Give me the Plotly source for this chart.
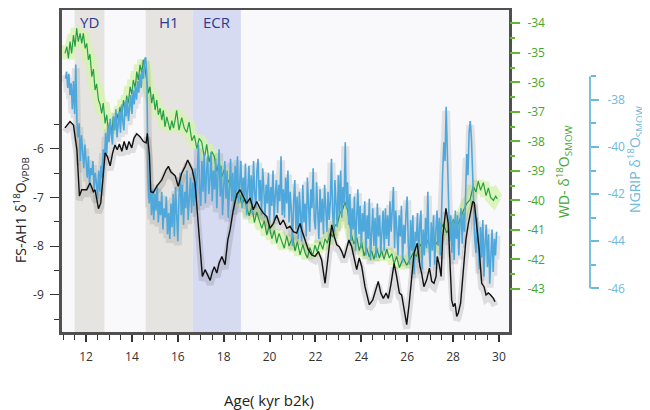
import plotly.graph_objects as go

# ---------------- data ----------------
# FS-AH1 speleothem d18O (VPDB), left axis
fs_age = [11.08, 11.30, 11.45, 11.60, 11.71, 11.81, 12.03, 12.17, 12.32, 12.39, 12.54, 12.64, 12.73, 12.83,
          12.93, 13.05, 13.16, 13.26, 13.36, 13.45, 13.56, 13.66, 13.77, 13.87, 13.99, 14.09, 14.21, 14.35,
          14.50, 14.62, 14.67, 14.76, 14.82, 14.93, 15.08, 15.30, 15.49, 15.59, 15.69, 15.88, 16.02, 16.17,
          16.32, 16.43, 16.53, 16.63, 16.75, 16.87, 16.97, 17.07, 17.19, 17.29, 17.41, 17.51, 17.59, 17.70,
          17.80, 17.92, 18.06, 18.18, 18.28, 18.42, 18.57, 18.71, 18.86, 19.00, 19.15, 19.29, 19.44, 19.58,
          19.73, 19.88, 20.02, 20.17, 20.31, 20.46, 20.60, 20.75, 20.89, 21.04, 21.18, 21.33, 21.40, 21.55,
          21.69, 21.84, 21.98, 22.13, 22.27, 22.42, 22.52, 22.61, 22.71, 22.82, 22.93, 23.04, 23.15, 23.25,
          23.36, 23.46, 23.58, 23.70, 23.80, 23.91, 24.02, 24.16, 24.35, 24.50, 24.64, 24.74, 24.85, 24.96,
          25.08, 25.18, 25.30, 25.43, 25.54, 25.66, 25.76, 25.86, 25.98, 26.09, 26.20, 26.30, 26.44, 26.56,
          26.63, 26.73, 26.85, 26.97, 27.07, 27.17, 27.26, 27.31, 27.40, 27.48, 27.55, 27.62, 27.69, 27.79,
          27.87, 27.94, 28.01, 28.09, 28.16, 28.23, 28.33, 28.45, 28.56, 28.67, 28.77, 28.86, 28.93, 29.03,
          29.14, 29.25, 29.35, 29.44, 29.54, 29.64, 29.76, 29.83]
fs_d18o = [-5.57, -5.44, -5.51, -6.02, -6.97, -6.84, -6.84, -6.70, -6.88, -6.84, -7.23, -7.11, -6.64, -6.08,
           -6.16, -6.35, -6.08, -5.92, -6.02, -5.90, -6.05, -5.85, -6.02, -5.85, -5.98, -5.78, -5.69, -5.75,
           -5.85, -5.88, -5.68, -6.12, -6.88, -6.90, -6.77, -6.64, -6.43, -6.36, -6.47, -6.55, -6.77, -6.50,
           -6.36, -6.23, -6.33, -6.43, -6.70, -7.39, -8.07, -8.62, -8.48, -8.59, -8.70, -8.52, -8.42, -8.55,
           -8.35, -8.21, -8.38, -7.87, -7.66, -7.25, -6.94, -6.84, -6.98, -7.12, -7.01, -7.25, -7.08, -7.22,
           -7.32, -7.39, -7.63, -7.53, -7.36, -7.56, -7.46, -7.63, -7.59, -7.70, -7.73, -7.53, -7.66, -7.90,
           -8.07, -8.18, -8.21, -8.11, -8.28, -8.76, -8.35, -7.94, -7.56, -7.80, -7.97, -8.01, -8.11, -8.24,
           -8.04, -7.87, -8.01, -8.24, -8.48, -8.24, -8.42, -8.83, -9.20, -9.10, -8.86, -8.72, -8.96, -9.07,
           -8.96, -9.07, -8.76, -8.35, -8.62, -8.96, -9.00, -9.31, -9.61, -9.17, -8.62, -8.14, -7.94, -8.42,
           -8.55, -8.83, -8.69, -8.45, -8.72, -8.76, -8.62, -8.21, -8.38, -8.62, -7.80, -7.53, -7.22, -7.53,
           -8.35, -9.10, -9.24, -9.17, -9.44, -9.37, -9.17, -8.48, -7.87, -7.53, -7.25, -7.08, -7.11, -7.53,
           -8.07, -8.76, -8.83, -9.00, -8.96, -9.00, -9.07, -9.14]

# WAIS Divide d18O (SMOW), first right axis
wd_age = [11.08, 11.16, 11.23, 11.30, 11.37, 11.45, 11.52, 11.59, 11.66, 11.74, 11.81, 11.88, 11.96, 12.03,
          12.10, 12.17, 12.25, 12.32, 12.39, 12.46, 12.54, 12.61, 12.68, 12.75, 12.83, 12.90, 12.97, 13.05,
          13.12, 13.19, 13.26, 13.34, 13.41, 13.48, 13.56, 13.63, 13.70, 13.77, 13.84, 13.92, 13.99, 14.06,
          14.14, 14.21, 14.28, 14.35, 14.43, 14.50, 14.57, 14.64, 14.72, 14.79, 14.86, 14.93, 15.01, 15.08,
          15.15, 15.23, 15.30, 15.37, 15.44, 15.52, 15.59, 15.66, 15.74, 15.81, 15.88, 15.95, 16.05, 16.17,
          16.28, 16.39, 16.49, 16.61, 16.72, 16.83, 16.93, 17.04, 17.16, 17.26, 17.36, 17.48, 17.59, 17.70,
          17.80, 17.92, 18.03, 18.13, 18.24, 18.36, 18.46, 18.57, 18.67, 18.79, 18.90, 19.01, 19.11, 19.23,
          19.34, 19.44, 19.54, 19.66, 19.77, 19.88, 19.98, 20.10, 20.21, 20.31, 20.41, 20.53, 20.64, 20.75,
          20.85, 21.01, 21.11, 21.21, 21.33, 21.45, 21.55, 21.65, 21.76, 21.88, 21.98, 22.08, 22.20, 22.32,
          22.42, 22.52, 22.64, 22.75, 22.85, 22.96, 23.07, 23.17, 23.29, 23.39, 23.48, 23.58, 23.68, 23.80,
          23.91, 24.02, 24.12, 24.23, 24.35, 24.45, 24.55, 24.67, 24.79, 24.89, 24.99, 25.11, 25.22, 25.33,
          25.43, 25.54, 25.66, 25.83, 25.98, 26.12, 26.27, 26.41, 26.56, 26.70, 26.85, 27.00, 27.14, 27.29,
          27.43, 27.58, 27.72, 27.87, 28.01, 28.16, 28.30, 28.45, 28.60, 28.74, 28.88, 29.00, 29.10, 29.20,
          29.32, 29.44, 29.54, 29.64, 29.76, 29.86, 29.93]
wd_d18o = [-35.02, -34.79, -35.19, -34.62, -35.02, -34.40, -34.79, -34.17, -34.62, -34.34, -34.68, -34.34, -34.85, -34.68,
           -35.24, -35.05, -35.81, -35.55, -36.26, -36.05, -36.60, -36.75, -37.05, -36.70, -37.39, -37.10, -37.62, -37.35,
           -37.73, -37.17, -37.51, -37.05, -37.30, -36.83, -37.20, -36.60, -36.94, -36.45, -36.71, -36.15, -36.40, -35.92,
           -36.20, -35.64, -35.92, -35.41, -35.69, -35.24, -35.53, -36.03, -36.37, -36.15, -36.71, -36.40, -36.94, -36.60,
           -37.10, -36.88, -37.28, -36.95, -37.51, -37.17, -37.40, -37.62, -37.30, -37.55, -37.28, -36.95, -37.62, -37.20,
           -37.55, -37.70, -37.35, -37.98, -37.80, -38.25, -37.90, -38.02, -38.55, -38.10, -38.70, -38.35, -38.50, -39.02,
           -38.70, -39.20, -38.95, -39.48, -39.30, -39.62, -39.45, -39.92, -39.70, -40.15, -39.95, -40.30, -40.52, -40.20,
           -40.75, -40.40, -40.62, -40.95, -40.70, -41.18, -40.85, -41.30, -41.02, -41.45, -41.12, -41.40, -41.62, -41.20,
           -41.55, -41.23, -41.72, -41.40, -41.85, -41.50, -41.78, -41.95, -41.60, -41.88, -41.52, -41.74, -41.40, -41.66,
           -41.30, -41.45, -41.10, -41.25, -40.85, -40.80, -40.42, -40.35, -40.05, -40.30, -40.75, -41.20, -41.48, -41.25,
           -41.70, -41.42, -41.88, -41.60, -41.92, -41.70, -42.00, -41.62, -41.95, -41.70, -42.00, -41.65, -41.95, -41.80,
           -42.15, -41.90, -42.28, -41.95, -42.20, -42.00, -41.78, -41.90, -41.48, -41.70, -41.33, -41.58, -41.36, -41.48,
           -41.02, -40.80, -41.10, -40.90, -40.65, -40.92, -40.62, -40.35, -40.10, -39.98, -39.52, -39.72, -39.35, -39.66,
           -39.40, -39.84, -39.58, -39.90, -40.00, -39.86, -39.95]

# NGRIP d18O (SMOW), second right axis
ng_age = [11.10, 11.15, 11.20, 11.25, 11.30, 11.35, 11.40, 11.45, 11.50, 11.55, 11.60, 11.65, 11.70, 11.75, 11.80, 11.85, 11.90, 11.95,
          12.00, 12.05, 12.10, 12.15, 12.20, 12.25, 12.30, 12.35, 12.40, 12.45, 12.50, 12.55, 12.60, 12.65, 12.70, 12.75, 12.80, 12.85, 12.90, 12.95,
          13.00, 13.05, 13.10, 13.15, 13.20, 13.25, 13.30, 13.35, 13.40, 13.45, 13.50, 13.55, 13.60, 13.65, 13.70, 13.75, 13.80, 13.85, 13.90, 13.95,
          14.00, 14.05, 14.10, 14.15, 14.20, 14.25, 14.30, 14.35, 14.40, 14.45, 14.50, 14.55, 14.60, 14.65, 14.70, 14.75, 14.80, 14.85, 14.90, 14.95,
          15.00, 15.05, 15.10, 15.15, 15.20, 15.25, 15.30, 15.35, 15.40, 15.45, 15.50, 15.55, 15.60, 15.65, 15.70, 15.75, 15.80, 15.85, 15.90, 15.95,
          16.00, 16.05, 16.10, 16.15, 16.20, 16.25, 16.30, 16.35, 16.40, 16.45, 16.50, 16.55, 16.60, 16.65, 16.70, 16.75, 16.80, 16.85, 16.90, 16.95,
          17.00, 17.05, 17.10, 17.15, 17.20, 17.25, 17.30, 17.35, 17.40, 17.45, 17.50, 17.55, 17.60, 17.65, 17.70, 17.75, 17.80, 17.85, 17.90, 17.95,
          18.00, 18.05, 18.10, 18.15, 18.20, 18.25, 18.30, 18.35, 18.40, 18.45, 18.50, 18.55, 18.60, 18.65, 18.70, 18.75, 18.80, 18.85, 18.90, 18.95,
          19.00, 19.05, 19.10, 19.15, 19.20, 19.25, 19.30, 19.35, 19.40, 19.45, 19.50, 19.55, 19.60, 19.65, 19.70, 19.75, 19.80, 19.85, 19.90, 19.95,
          20.00, 20.05, 20.10, 20.15, 20.20, 20.25, 20.30, 20.35, 20.40, 20.45, 20.50, 20.55, 20.60, 20.65, 20.70, 20.75, 20.80, 20.85, 20.90, 20.95,
          21.00, 21.05, 21.10, 21.15, 21.20, 21.25, 21.30, 21.35, 21.40, 21.45, 21.50, 21.55, 21.60, 21.65, 21.70, 21.75, 21.80, 21.85, 21.90, 21.95,
          22.00, 22.05, 22.10, 22.15, 22.20, 22.25, 22.30, 22.35, 22.40, 22.45, 22.50, 22.55, 22.60, 22.65, 22.70, 22.75, 22.80, 22.85, 22.90, 22.95,
          23.00, 23.05, 23.10, 23.15, 23.20, 23.25, 23.30, 23.35, 23.40, 23.45, 23.50, 23.55, 23.60, 23.65, 23.70, 23.75, 23.80, 23.85, 23.90, 23.95,
          24.00, 24.05, 24.10, 24.15, 24.20, 24.25, 24.30, 24.35, 24.40, 24.45, 24.50, 24.55, 24.60, 24.65, 24.70, 24.75, 24.80, 24.85, 24.90, 24.95,
          25.00, 25.05, 25.10, 25.15, 25.20, 25.25, 25.30, 25.35, 25.40, 25.45, 25.50, 25.55, 25.60, 25.65, 25.70, 25.75, 25.80, 25.85, 25.90, 25.95,
          26.00, 26.05, 26.10, 26.15, 26.20, 26.25, 26.30, 26.35, 26.40, 26.45, 26.50, 26.55, 26.60, 26.65, 26.70, 26.75, 26.80, 26.85, 26.90, 26.95,
          27.00, 27.05, 27.10, 27.15, 27.20, 27.25, 27.30, 27.35, 27.40, 27.45, 27.50, 27.55, 27.60, 27.65, 27.70, 27.75, 27.80, 27.85, 27.90, 27.95,
          28.00, 28.05, 28.10, 28.15, 28.20, 28.25, 28.30, 28.35, 28.40, 28.45, 28.50, 28.55, 28.60, 28.65, 28.70, 28.75, 28.80, 28.85, 28.90, 28.95,
          29.00, 29.05, 29.10, 29.15, 29.20, 29.25, 29.30, 29.35, 29.40, 29.45, 29.50, 29.55, 29.60, 29.65, 29.70, 29.75, 29.80, 29.85, 29.90]
ng_d18o = [-37.1, -36.8, -37.5, -36.9, -37.8, -37.3, -38.4, -37.2, -38.6, -36.5, -38.9, -39.6, -39.0, -40.6, -39.5, -40.3, -40.9, -39.9,
           -40.7, -41.3, -40.4, -41.6, -40.9, -41.2, -40.6, -41.8, -41.1, -41.5, -42.2, -41.0, -41.9, -40.8, -41.3, -40.1, -40.6, -39.4, -40.3, -39.1,
           -39.8, -38.8, -39.5, -39.9, -38.7, -39.3, -38.4, -39.6, -39.0, -38.5, -39.4, -38.2, -38.9, -39.3, -38.1, -38.7, -37.9, -38.9, -38.3, -37.8,
           -38.6, -37.6, -38.2, -37.4, -38.0, -37.2, -37.7, -36.9, -37.5, -36.7, -37.1, -36.3, -36.2, -37.0, -41.3, -42.4, -41.4, -42.9, -41.8, -43.1,
           -42.0, -42.7, -41.6, -43.2, -42.3, -42.9, -41.9, -43.5, -42.6, -43.0, -42.1, -43.7, -42.8, -43.9, -42.4, -43.4, -42.0, -43.8, -41.7, -43.0,
           -44.0, -42.2, -41.1, -42.9, -41.6, -43.3, -41.9, -42.6, -41.0, -43.1, -42.0, -41.3, -42.8, -41.5, -42.5, -40.9, -42.2, -41.3, -39.9, -41.8,
           -42.5, -40.6, -41.9, -40.3, -42.4, -41.1, -40.4, -42.0, -41.4, -40.2, -42.3, -41.0, -41.8, -40.5, -42.6, -41.2, -40.1, -42.1, -40.8, -42.9,
           -41.4, -40.6, -42.2, -41.0, -43.0, -41.6, -40.5, -42.3, -41.1, -42.7, -40.8, -41.9, -40.4, -42.4, -41.2, -40.6, -42.6, -41.3, -42.1, -40.7,
           -42.9, -41.5, -40.8, -42.4, -41.2, -42.8, -40.6, -41.9, -42.6, -41.0, -40.5, -42.3, -41.4, -42.9, -40.9, -41.8, -43.0, -41.6, -42.4, -41.1,
           -43.2, -41.7, -42.5, -41.0, -43.1, -42.0, -41.4, -42.8, -41.6, -42.3, -40.4, -42.9, -41.8, -43.0, -41.3, -42.4, -41.0, -43.2, -41.9, -42.7,
           -44.2, -42.3, -41.4, -43.5, -42.1, -43.9, -41.9, -42.8, -44.0, -41.6, -43.2, -42.4, -43.8, -41.3, -42.9, -43.6, -41.8, -42.6, -40.9, -43.1,
           -43.5, -41.5, -42.7, -43.9, -41.8, -43.2, -42.2, -43.7, -41.6, -42.9, -43.6, -41.9, -43.1, -42.3, -40.5, -42.8, -43.6, -41.4, -42.5, -43.4,
           -41.2, -42.9, -41.0, -43.0, -41.7, -42.4, -39.8, -42.6, -41.5, -43.3, -42.0, -44.0, -42.6, -43.5, -42.1, -44.4, -43.0, -41.8, -43.7, -42.5,
           -44.3, -42.8, -43.6, -42.3, -44.6, -42.9, -43.9, -42.2, -44.8, -43.3, -42.6, -44.2, -43.0, -44.7, -42.4, -43.8, -42.9, -44.5, -43.2, -42.7,
           -44.4, -42.6, -43.9, -42.9, -44.2, -42.3, -43.6, -42.8, -41.7, -44.3, -42.7, -43.5, -44.6, -42.9, -43.8, -42.5, -44.9, -43.3, -44.1, -42.8,
           -42.1, -44.2, -45.0, -43.1, -44.4, -42.9, -45.4, -43.6, -44.0, -42.8, -44.9, -43.3, -42.7, -45.2, -43.5, -44.6, -43.0, -44.3, -41.9, -44.1,
           -45.1, -43.2, -44.4, -42.9, -45.0, -43.6, -42.7, -44.2, -43.0, -44.6, -42.5, -41.0, -39.8, -40.6, -38.3, -40.2, -42.7, -44.0, -42.9, -44.5,
           -43.1, -44.8, -42.7, -43.9, -42.9, -44.6, -43.3, -42.6, -44.1, -42.8, -43.6, -42.0, -40.3, -41.2, -39.4, -38.9, -39.6, -41.0, -42.7, -43.9,
           -44.5, -43.0, -44.2, -45.2, -43.4, -44.7, -43.1, -45.5, -44.0, -43.3, -45.1, -43.7, -45.8, -44.2, -43.5, -45.3, -43.9, -44.6, -43.6]

# event bands (kyr b2k)
event_names = ["YD", "H1", "ECR"]
event_start = [11.5, 14.6, 16.65]
event_end = [12.8, 16.65, 18.75]
event_colors = ["#e5e4e1", "#e5e4e1", "#d6dbf2"]

age_ticks = [12, 14, 16, 18, 20, 22, 24, 26, 28, 30]
fs_ticks = [-6, -7, -8, -9]
wd_ticks = [-34, -35, -36, -37, -38, -39, -40, -41, -42, -43]
ng_ticks = [-38, -40, -42, -44, -46]

# ---------------- styling / geometry ----------------
# the page places the figure 8 px in from the top-left corner
FONT = "Open Sans"
X_RANGE = [10.95, 30.44]
FS_RANGE = [-9.76, -3.15]
WD_RANGE = [-44.46, -33.55]
NG_RANGE = [-47.85, -34.19]
PW, PH = 586.0, 322.0          # plotting paper size in px
XDOM = [0, 447 / PW]
NG_POS = (590 - 62) / PW
GREEN_TXT = "#45a62c"
GREEN_TICK = "#62b834"
BLUE = "#6cb9de"

fs_shift = 4 / 48.7
ng_shift = 4 / 23.6


def px(wx):
    return (wx - 62) / PW


def py(wy):
    return (332 - wy) / PH


fig = go.Figure()

# invisible trace on the main axis (keeps the left axis drawn)
fig.add_trace(go.Scatter(x=fs_age, y=fs_d18o, yaxis="y", mode="lines",
                         line=dict(color="rgba(0,0,0,0)", width=0), hoverinfo="skip",
                         showlegend=False))
# WD: light envelope then line
fig.add_trace(go.Scatter(x=wd_age, y=wd_d18o, yaxis="y2", mode="lines",
                         line=dict(color="rgba(214,242,172,0.8)", width=12), hoverinfo="skip",
                         showlegend=False))
fig.add_trace(go.Scatter(x=wd_age, y=wd_d18o, yaxis="y2", mode="lines",
                         line=dict(color="#25a044", width=1.2), showlegend=False))
# soft shadows
fig.add_trace(go.Scatter(x=ng_age, y=ng_d18o, yaxis="y4", mode="lines",
                         line=dict(color="rgba(60,60,60,0.12)", width=8), hoverinfo="skip",
                         showlegend=False))
fig.add_trace(go.Scatter(x=fs_age, y=fs_d18o, yaxis="y5", mode="lines",
                         line=dict(color="rgba(60,60,60,0.15)", width=7), hoverinfo="skip",
                         showlegend=False))
# NGRIP
fig.add_trace(go.Scatter(x=ng_age, y=ng_d18o, yaxis="y6", mode="lines",
                         line=dict(color="#4fa8dc", width=1.6), showlegend=False))
# FS-AH1
fig.add_trace(go.Scatter(x=fs_age, y=fs_d18o, yaxis="y7", mode="lines",
                         line=dict(color="#111111", width=1.4), showlegend=False))

for name, x0, x1, c in zip(event_names, event_start, event_end, event_colors):
    fig.add_shape(type="rect", xref="x", yref="y domain", x0=x0, x1=x1, y0=0, y1=1,
                  fillcolor=c, line_width=0, layer="below")
    fig.add_annotation(x=(x0 + x1) / 2, y=py(22), xref="x", yref="paper", text=name,
                       xanchor="center", yanchor="middle", showarrow=False,
                       font=dict(family=FONT, size=15, color="#2e3a8f"))

# NGRIP scale: axis line only between -37 and -46
fig.add_shape(type="line", xref="paper", yref="y6", x0=NG_POS, x1=NG_POS, y0=-37, y1=-46,
              line=dict(color=BLUE, width=1.8))

tickfont = dict(family=FONT, size=12, color="#333333")

fig.update_layout(
    width=642, height=402,
    margin=dict(l=54, r=2, t=2, b=78, autoexpand=False),
    paper_bgcolor="white", plot_bgcolor="#f9f9fc",
    xaxis=dict(domain=XDOM, range=X_RANGE, tickvals=age_ticks, ticktext=[str(v) for v in age_ticks],
               ticks="outside", ticklen=7, tickwidth=1.5, tickcolor="#333", showline=True,
               linewidth=2.5, linecolor="#505050", mirror=True, showgrid=False, zeroline=False,
               tickfont=tickfont, ticklabelstandoff=5, automargin=False,
               minor=dict(dtick=0.5, tick0=0, ticks="outside", ticklen=5, tickwidth=1.3,
                          tickcolor="#333", showgrid=False)),
    yaxis=dict(range=FS_RANGE, tickvals=fs_ticks, ticktext=[str(v) for v in fs_ticks],
               ticks="outside", ticklen=9, tickwidth=1.3, tickcolor="#333", showline=True,
               linewidth=2.5, linecolor="#505050", mirror=True, showgrid=False, zeroline=False,
               tickfont=tickfont, ticklabelstandoff=4, automargin=False,
               minor=dict(tickvals=[-5.5, -6.5, -7.5, -8.5, -9.5], ticks="outside", ticklen=5,
                          tickwidth=1.3, tickcolor="#333", showgrid=False)),
    yaxis2=dict(overlaying="y", side="right", anchor="x", range=WD_RANGE, tickvals=wd_ticks,
                ticktext=[str(v) for v in wd_ticks], ticks="outside", ticklen=10, tickwidth=1.5,
                tickcolor=GREEN_TICK, showgrid=False, zeroline=False, showline=False,
                ticklabelstandoff=5, automargin=False,
                tickfont=dict(family=FONT, size=12, color=GREEN_TXT),
                minor=dict(tickvals=[-34.5 - i for i in range(9)], ticks="outside", ticklen=5,
                           tickwidth=1.5, tickcolor=GREEN_TICK, showgrid=False)),
    yaxis4=dict(overlaying="y", range=[NG_RANGE[0] + ng_shift, NG_RANGE[1] + ng_shift],
                visible=False, automargin=False),
    yaxis5=dict(overlaying="y", range=[FS_RANGE[0] + fs_shift, FS_RANGE[1] + fs_shift],
                visible=False, automargin=False),
    yaxis6=dict(overlaying="y", range=NG_RANGE, anchor="free", position=NG_POS, side="right",
                showline=False, tickvals=ng_ticks, ticktext=[str(v) for v in ng_ticks],
                ticks="outside", ticklen=8, tickwidth=1.5, tickcolor=BLUE, showgrid=False,
                zeroline=False, ticklabelstandoff=6, automargin=False,
                tickfont=dict(family=FONT, size=12, color=BLUE),
                minor=dict(tickvals=[-37, -39, -41, -43, -45], ticks="outside", ticklen=5,
                           tickwidth=1.5, tickcolor=BLUE, showgrid=False)),
    yaxis7=dict(overlaying="y", range=FS_RANGE, visible=False, automargin=False),
)

# axis titles
fig.add_annotation(xref="paper", yref="paper", x=px(269), y=py(400), xanchor="center",
                   yanchor="middle", text="Age( kyr b2k)", showarrow=False,
                   font=dict(family=FONT, size=15, color="#222"))
fig.add_annotation(xref="paper", yref="paper", x=px(21), y=py(210), xanchor="center",
                   yanchor="middle", text="FS-AH1 δ<sup>18</sup>O<sub>VPDB</sub>", showarrow=False,
                   textangle=-90, font=dict(family=FONT, size=14, color="#222"))
fig.add_annotation(xref="paper", yref="paper", x=px(564), y=py(172), xanchor="center",
                   yanchor="middle", text="WD- δ<sup>18</sup>O<sub>SMOW</sub>", showarrow=False,
                   textangle=-90, font=dict(family=FONT, size=14, color=GREEN_TXT))
fig.add_annotation(xref="paper", yref="paper", x=px(635), y=py(160), xanchor="center",
                   yanchor="middle", text="NGRIP δ<sup>18</sup>O<sub>SMOW</sub>", showarrow=False,
                   textangle=-90, font=dict(family=FONT, size=14, color=BLUE))

fig.write_html("out.html")
